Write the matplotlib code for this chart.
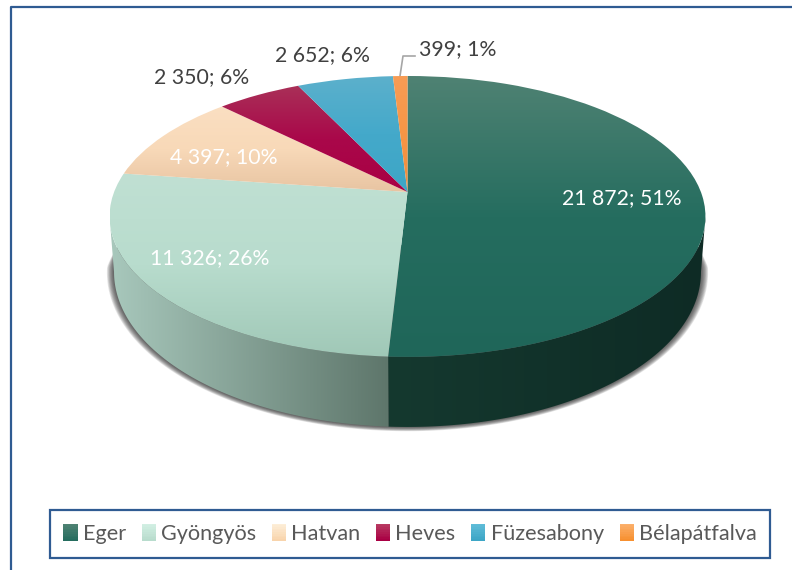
import numpy as np
import matplotlib
matplotlib.use("Agg")
from matplotlib import pyplot as plt
from matplotlib.colors import LinearSegmentedColormap
from matplotlib.legend_handler import HandlerBase
from matplotlib.patches import Patch, Polygon, Rectangle
from matplotlib.transforms import Transform

plt.rcParams["font.family"] = ["Lato", "DejaVu Sans"]

categories = ["Eger", "Gyöngyös", "Hatvan", "Heves", "Füzesabony", "Bélapátfalva"]
values = [21872, 11326, 4397, 2350, 2652, 399]
value_labels = ["21 872; 51%", "11 326; 26%", "4 397; 10%", "2 350; 6%", "2 652; 6%", "399; 1%"]

# top, middle and bottom colour of every slice
top_colors = [("#4f8273", "#256d5f", "#1f6659"),
              ("#c0e0d3", "#b8dccd", "#a0c8b7"),
              ("#fbdfc2", "#f8d9b8", "#e8c4a2"),
              ("#aa3058", "#a9084a", "#a90044"),
              ("#5cb0cc", "#44a9ca", "#3da6c6"),
              ("#f79c55", "#f79646", "#f08c3c")]
side_colors = [("#15392f", "#0e2b25"), ("#a8c8bc", "#5e766b")]
# legend swatches are a bit lighter than the slices
swatch_colors = [("#4f8273", "#256d5f"), ("#d2efe3", "#b8dccd"), ("#fdeed8", "#f8d4ac"),
                 ("#b83a62", "#a90044"), ("#5fbcd8", "#3da6c6"), ("#fbb06c", "#f79030")]

# projection of the tilted disc, all in pixels
APEX_X = 407.5
TOP_RIM = dict(apex_y=192.0, sx=293.4, sy=136.2)
LOW_RIM = dict(apex_y=245.0, sx=289.0, sy=150.3)
TILT = 0.174


def project(u, v, apex_y, sx, sy):
    w = 1 + TILT * v
    return np.column_stack((APEX_X + sx * u / w, apex_y - sy * v / w))


class DiscTransform(Transform):
    input_dims = 2
    output_dims = 2

    def transform_non_affine(self, values):
        return project(values[:, 0], values[:, 1], **TOP_RIM)


def rim_points(theta, rim=TOP_RIM):
    t = np.radians(theta)
    return project(np.cos(t), np.sin(t), **rim)


def gradient_cmap(colors):
    return LinearSegmentedColormap.from_list("g", colors)


def fill_gradient(ax, artist, extent, colors, horizontal=False):
    grad = np.linspace(0, 1, 256)
    grad = grad.reshape(1, -1) if horizontal else grad.reshape(-1, 1)
    im = ax.imshow(grad, cmap=gradient_cmap(colors), extent=extent, aspect="auto",
                   origin="upper", interpolation="bilinear", zorder=artist.get_zorder())
    im.set_clip_path(artist)


class SwatchHandler(HandlerBase):
    def create_artists(self, legend, orig, xdescent, ydescent, width, height, fontsize, trans):
        cmap = gradient_cmap(orig.swatch)
        strips = []
        n = 10
        for i in range(n):
            strips.append(Rectangle((-xdescent, -ydescent + height * (n - i - 1) / n),
                                    width, height / n + 0.3, facecolor=cmap(i / (n - 1)),
                                    edgecolor="none", transform=trans))
        return strips


fig = plt.figure(figsize=(7.92, 5.70), dpi=100)
ax = fig.add_axes([0, 0, 1, 1])

wedges, _ = ax.pie(values, startangle=90, counterclock=False, radius=1)
ax.set_aspect("auto")
ax.set_xlim(0, 792)
ax.set_ylim(570, 0)
ax.axis("off")

disc = DiscTransform() + ax.transData

# front wall, only the part of the rim that faces the viewer
edges = 90 - 360 * np.cumsum([0] + values) / np.sum(values)
for (t0, t1), colors in zip(((-10, edges[1]), (edges[1], -170)), side_colors):
    th = np.linspace(t0, t1, 80)
    outline = np.vstack((rim_points(th), rim_points(th, LOW_RIM)[::-1]))
    wall = Polygon(outline, closed=True, facecolor="none", edgecolor="none", zorder=3)
    ax.add_patch(wall)
    fill_gradient(ax, wall, (outline[:, 0].min(), outline[:, 0].max(), 430, 190),
                  colors, horizontal=True)

# soft shadow under the wall, fades out towards both ends of the arc
th = np.linspace(0, -180, 240)
taper = np.clip(np.minimum(-th, th + 180) / 8, 0, 1)
for grow in np.linspace(7, 0.5, 10):
    shadow_rim = dict(apex_y=LOW_RIM["apex_y"], sx=LOW_RIM["sx"] + grow * taper,
                      sy=LOW_RIM["sy"] + 0.5 * grow * taper)
    outline = np.vstack((rim_points(th, shadow_rim), [[APEX_X, LOW_RIM["apex_y"]]]))
    ax.add_patch(Polygon(outline, closed=True, facecolor="#303030", edgecolor="none",
                         alpha=0.12, zorder=2))

# top faces
for wedge, colors in zip(wedges, top_colors):
    wedge.set_transform(disc)
    wedge.set_facecolor("none")
    wedge.set_edgecolor("none")
    wedge.set_zorder(4)
    th = np.linspace(wedge.theta1, wedge.theta2, 60)
    pts = np.vstack((rim_points(th), [[APEX_X, TOP_RIM["apex_y"]]]))
    fill_gradient(ax, wedge, (pts[:, 0].min(), pts[:, 0].max(), pts[:, 1].max(), pts[:, 1].min()), colors)

# data labels
ax.text(622, 198, value_labels[0], color="white", fontsize=15.3, ha="center", va="center", zorder=6)
ax.text(210, 258, value_labels[1], color="white", fontsize=15.3, ha="center", va="center", zorder=6)
ax.text(224, 157, value_labels[2], color="white", fontsize=15.3, ha="center", va="center", zorder=6)
ax.text(202, 77, value_labels[3], color="#404040", fontsize=15.3, ha="center", va="center", zorder=6)
ax.text(322, 55, value_labels[4], color="#404040", fontsize=15.3, ha="center", va="center", zorder=6)
ax.text(458, 49, value_labels[5], color="#404040", fontsize=15.3, ha="center", va="center", zorder=6)
ax.plot([400, 403, 415], [76, 56, 56], color="#a6a6a6", lw=1.2, zorder=1)

# chart border, only top and left are in the crop
ax.plot([10.5, 10.5, 792], [570, 7, 7], color="#2f5b92", lw=1.6, zorder=1)

handles = []
for name, colors in zip(categories, swatch_colors):
    handle = Patch(label=name)
    handle.swatch = colors
    handles.append(handle)
leg = ax.legend(handles=handles, ncol=6, loc="center", bbox_to_anchor=(410, 534),
                bbox_transform=ax.transData, fontsize=15.6, frameon=True, fancybox=False,
                edgecolor="#2f5b92", framealpha=1, labelcolor="#595959",
                handlelength=0.65, handleheight=0.85, handletextpad=0.24, columnspacing=0.73,
                borderpad=0.64, handler_map={Patch: SwatchHandler()})
leg.get_frame().set_linewidth(1.6)
leg.set_zorder(6)

fig.savefig("out.png", dpi=100)
